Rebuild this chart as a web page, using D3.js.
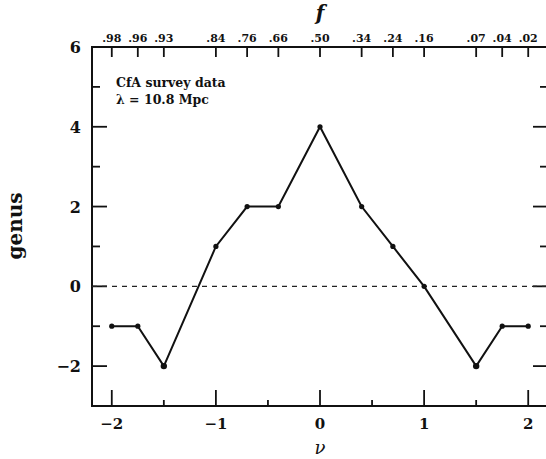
<!DOCTYPE html>
<html>
<head>
<meta charset="utf-8">
<script src="https://cdn.jsdelivr.net/npm/d3@7"></script>
<style>
  body { margin: 0; background: #fff; }
  svg { display: block; }
  text { font-family: "DejaVu Serif", serif; font-weight: bold; fill: #111; }
</style>
</head>
<body>
<svg id="viz"></svg>
<script>
// threshold nu and the measured genus
var nuValues = [-2, -1.75, -1.5, -1, -0.7, -0.4, 0, 0.4, 0.7, 1, 1.5, 1.75, 2];
var genusValues = [-1, -1, -2, 1, 2, 2, 4, 2, 1, 0, -2, -1, -1];
// fraction f labels on the top axis, one per nu value
var fLabels = ['.98', '.96', '.93', '.84', '.76', '.66', '.50', '.34', '.24', '.16', '.07', '.04', '.02'];
var yLabelTicks = [-2, 0, 2, 4, 6];

var width = 546, height = 459;
var margin = { top: 47, right: -2, bottom: 53, left: 92 };
var drawWidth = width - margin.left - margin.right;
var drawHeight = height - margin.top - margin.bottom;

var svg = d3.select('#viz').attr('width', width).attr('height', height);
var g = svg.append('g').attr('transform', `translate(${margin.left}, ${margin.top})`);

var xScale = d3.scaleLinear().domain([-2.19, 2.19]).range([0, drawWidth]);
var yScale = d3.scaleLinear().domain([-3, 6]).range([drawHeight, 0]);

// frame
g.append('rect')
  .attr('width', drawWidth).attr('height', drawHeight)
  .attr('fill', 'none').attr('stroke', '#111').attr('stroke-width', 2);

// ticks, drawn inward
function tickSet(values, len, orient) {
  values.forEach(function (v) {
    if (orient === 'bottom') {
      g.append('line').attr('x1', xScale(v)).attr('x2', xScale(v))
        .attr('y1', drawHeight).attr('y2', drawHeight - len);
    } else if (orient === 'top') {
      g.append('line').attr('x1', xScale(v)).attr('x2', xScale(v))
        .attr('y1', 0).attr('y2', len);
    } else if (orient === 'left') {
      g.append('line').attr('y1', yScale(v)).attr('y2', yScale(v))
        .attr('x1', 0).attr('x2', len);
    } else {
      g.append('line').attr('y1', yScale(v)).attr('y2', yScale(v))
        .attr('x1', drawWidth).attr('x2', drawWidth - len);
    }
  });
}
tickSet(d3.range(-2, 2.01, 1), 16, 'bottom');
tickSet(d3.range(-1.5, 2, 1), 6, 'bottom');
tickSet(nuValues, 10, 'top');
tickSet(yLabelTicks, 15, 'left');
tickSet(d3.range(-1, 6, 2), 8, 'left');
tickSet(yLabelTicks, 15, 'right');
tickSet(d3.range(-1, 6, 2), 8, 'right');
g.selectAll('line').attr('stroke', '#111').attr('stroke-width', 1.8);

// tick labels
g.selectAll('.xlab').data(d3.range(-2, 2.01, 1)).enter().append('text')
  .attr('x', d => xScale(d)).attr('y', drawHeight + 23)
  .attr('text-anchor', 'middle').style('font-size', '15px')
  .text(d => d3.format('')(d).replace('-', '\u2212'));

g.selectAll('.ylab').data(yLabelTicks).enter().append('text')
  .attr('x', -11).attr('y', d => yScale(d) + 6)
  .attr('text-anchor', 'end').style('font-size', '16px')
  .text(d => String(d).replace('-', '\u2212'));

g.selectAll('.flab').data(nuValues).enter().append('text')
  .attr('x', d => xScale(d)).attr('y', -5)
  .attr('text-anchor', 'middle').style('font-size', '11px')
  .text((d, i) => fLabels[i]);

// axis titles
svg.append('text').attr('x', margin.left + xScale(0)).attr('y', 454)
  .attr('text-anchor', 'middle').style('font-size', '18px').style('font-style', 'italic')
  .style('font-weight', 'normal').text('\u03bd');
svg.append('text').attr('x', margin.left + xScale(0)).attr('y', 20)
  .attr('text-anchor', 'middle').style('font-size', '20px').style('font-style', 'italic')
  .text('f');
svg.append('text').attr('transform', 'translate(22, 226) rotate(-90)')
  .attr('text-anchor', 'middle').style('font-size', '20px').text('genus');

// annotation
g.append('text').attr('x', 24).attr('y', 40).style('font-size', '12.5px').text('CfA survey data');
g.append('text').attr('x', 24).attr('y', 57).style('font-size', '12.5px').text('\u03bb = 10.8 Mpc');

// zero line
g.append('line')
  .attr('x1', 0).attr('x2', drawWidth)
  .attr('y1', yScale(0)).attr('y2', yScale(0))
  .attr('stroke', '#222').attr('stroke-width', 1.2).attr('stroke-dasharray', '5,5');

var points = nuValues.map((d, i) => [d, genusValues[i]]);
var line = d3.line().x(d => xScale(d[0])).y(d => yScale(d[1]));
g.append('path').datum(points)
  .attr('d', line).attr('fill', 'none').attr('stroke', '#111').attr('stroke-width', 2);

g.selectAll('.pt').data(points).enter().append('circle')
  .attr('cx', d => xScale(d[0])).attr('cy', d => yScale(d[1]))
  .attr('r', d => d[1] === -2 ? 3.2 : 2.6).attr('fill', '#111');
</script>
</body>
</html>
